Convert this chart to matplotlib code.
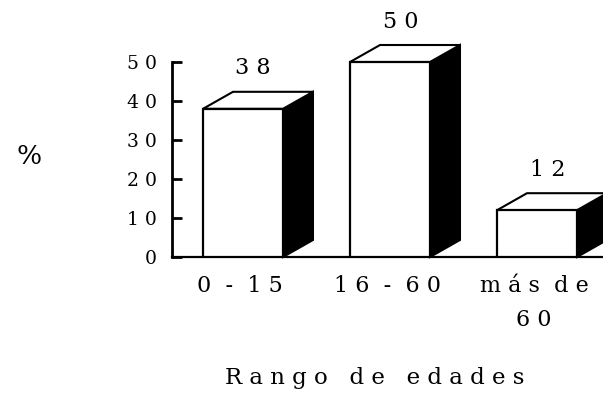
import numpy as np
import matplotlib.pyplot as plt
from matplotlib.patches import Polygon

# data
categories = ['0 - 15', '16 - 60', 'más de\n60']
values = [38, 50, 12]
yticks = [0, 10, 20, 30, 40, 50]
xlabel = 'Rango de edades'
ylabel = '%'


def spaced(s, gap):
    # wide letter spacing like the scanned original
    return gap.join(' '.join(w) for w in s.split(' '))


plt.rcParams['font.family'] = ['DejaVu Serif']

fig = plt.figure(figsize=(6.03, 4.01), dpi=100)
W, H = 603, 401
# axes box in pixels: left 172, baseline at y=257 (from top), up to top edge
ax = fig.add_axes([172 / W, (H - 257) / H, (W - 172) / W, 257 / H])
ax.set_xlim(-0.483, 2.449)
ax.set_ylim(0, 65.9)

x = np.arange(len(values))
w = 0.544
dx, dy = 0.204, 4.36

for xi, v in zip(x, values):
    side = Polygon([(xi + w / 2, 0), (xi + w / 2 + dx, dy),
                    (xi + w / 2 + dx, v + dy), (xi + w / 2, v)],
                   closed=True, facecolor='black', edgecolor='black',
                   lw=1.5, clip_on=False, zorder=2)
    ax.add_patch(side)
    top = Polygon([(xi - w / 2, v), (xi - w / 2 + dx, v + dy),
                   (xi + w / 2 + dx, v + dy), (xi + w / 2, v)],
                  closed=True, facecolor='white', edgecolor='black',
                  lw=1.5, clip_on=False, zorder=3)
    ax.add_patch(top)
    ax.text(xi + 0.07, v + dy + 6.0, ' '.join(str(v)), ha='center', va='center',
            fontsize=16)

ax.bar(x, values, width=w, color='white', edgecolor='black', lw=1.6, zorder=4)

for s in ['top', 'right']:
    ax.spines[s].set_visible(False)
ax.spines['left'].set_bounds(0, 50)
ax.spines['left'].set_linewidth(2)
ax.spines['bottom'].set_linewidth(1.6)

ax.set_yticks(yticks)
ax.set_yticklabels([' '.join(str(t)) for t in yticks], fontsize=13.5)
ax.tick_params(axis='y', direction='in', length=7, width=2, pad=11)

ax.set_xticks(x - 0.02)
ax.set_xticklabels(['\n'.join(spaced(p, '  ') for p in c.split('\n')) for c in categories],
                   fontsize=16, linespacing=1.7, va='top')
ax.tick_params(axis='x', length=0, pad=13)

fig.text(29 / W, 1 - 157 / H, ylabel, ha='center', va='center', fontsize=19)
fig.text(375 / W, 1 - 378 / H, spaced(xlabel, '   '), ha='center', va='center',
         fontsize=16.5)

fig.savefig('out.png', dpi=100)
